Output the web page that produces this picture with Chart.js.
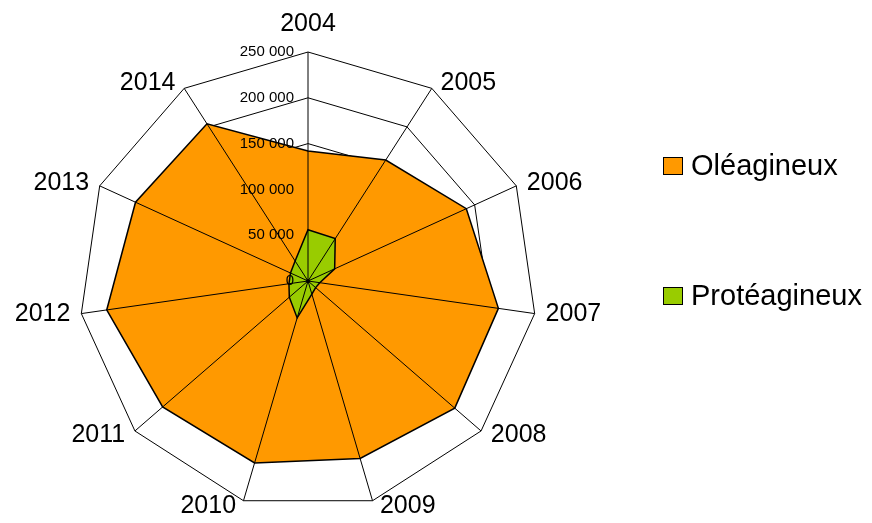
<!DOCTYPE html>
<html>
<head>
<meta charset="utf-8">
<script src="https://cdn.jsdelivr.net/npm/chart.js@4.4.1/dist/chart.umd.min.js"></script>
<style>
  html, body { margin: 0; padding: 0; background: #fff; }
  #wrap { position: relative; width: 872px; height: 523px; }
</style>
</head>
<body>
<div id="wrap"><canvas id="c" width="872" height="523"></canvas></div>
<script>
const categories = ['2004', '2005', '2006', '2007', '2008', '2009', '2010', '2011', '2012', '2013', '2014'];
const oleagineux = [142000, 157000, 190000, 210000, 212000, 202000, 207000, 210000, 222000, 207000, 204000];
const proteagineux = [56000, 55000, 32000, 13000, 11000, 15000, 42000, 27000, 21000, 21000, 26000];
const tickValues = [0, 50000, 100000, 150000, 200000, 250000];
const seriesNames = ['Oléagineux', 'Protéagineux'];
const seriesColors = ['#FF9900', '#99CC00'];

function fmt(v) {
  return String(v).replace(/\B(?=(\d{3})+(?!\d))/g, ' ');
}

const overlay = {
  id: 'overlay',
  afterDatasetsDraw(chart) {
    const ctx = chart.ctx;
    const s = chart.scales.r;
    const R = s.getDistanceFromCenterForValue(tickValues[tickValues.length - 1]);
    ctx.save();
    // spokes over the data
    ctx.strokeStyle = '#000';
    ctx.lineWidth = 1;
    ctx.beginPath();
    for (let i = 0; i < categories.length; i++) {
      const p = s.getPointPosition(i, R);
      ctx.moveTo(s.xCenter, s.yCenter);
      ctx.lineTo(p.x, p.y);
    }
    ctx.stroke();
    ctx.fillStyle = '#000';
    ctx.beginPath();
    ctx.arc(s.xCenter, s.yCenter, 2, 0, Math.PI * 2);
    ctx.fill();
    // tick labels
    ctx.font = '15px "Liberation Sans", Arial, sans-serif';
    ctx.textAlign = 'right';
    ctx.textBaseline = 'middle';
    tickValues.forEach(v => {
      const d = s.getDistanceFromCenterForValue(v);
      ctx.fillText(fmt(v), s.xCenter - 14, s.yCenter - d);
    });
    // point labels
    ctx.font = '25px "Liberation Sans", Arial, sans-serif';
    categories.forEach((lab, i) => {
      const p = s.getPointPosition(i, R);
      const a = i * 2 * Math.PI / categories.length;
      const sn = Math.sin(a), cs = Math.cos(a);
      if (i === 0) {
        ctx.textAlign = 'center';
        ctx.fillText(lab, p.x, p.y - 28);
      } else {
        ctx.textAlign = sn > 0 ? 'left' : 'right';
        const dx = (6 + 5 * Math.abs(sn)) * (sn > 0 ? 1 : -1);
        ctx.fillText(lab, p.x + dx, p.y - 6 * cs);
      }
    });
    // legend
    const legY = [166, 296];
    ctx.font = '29px "Liberation Sans", Arial, sans-serif';
    ctx.textAlign = 'left';
    seriesNames.forEach((n, i) => {
      ctx.fillStyle = seriesColors[i];
      ctx.fillRect(663.5, legY[i] - 8.5, 19, 17);
      ctx.strokeStyle = '#000';
      ctx.lineWidth = 1;
      ctx.strokeRect(663.5, legY[i] - 8.5, 19, 17);
      ctx.fillStyle = '#000';
      ctx.fillText(n, 691, legY[i] + 1);
    });
    ctx.restore();
  }
};

new Chart(document.getElementById('c'), {
  type: 'radar',
  data: {
    labels: categories,
    datasets: [
      {
        label: seriesNames[0],
        data: oleagineux,
        backgroundColor: seriesColors[0],
        borderColor: '#000',
        borderWidth: 1.5,
        pointRadius: 0,
        fill: true,
        order: 2
      },
      {
        label: seriesNames[1],
        data: proteagineux,
        backgroundColor: seriesColors[1],
        borderColor: '#000',
        borderWidth: 1.5,
        pointRadius: 0,
        fill: true,
        order: 1
      }
    ]
  },
  options: {
    responsive: false,
    animation: false,
    events: [],
    layout: { padding: { left: 79, right: 334, top: 52, bottom: 12 } },
    plugins: { legend: { display: false }, tooltip: { enabled: false } },
    elements: { line: { tension: 0 } },
    scales: {
      r: {
        min: 0,
        max: 250000,
        ticks: { display: false, stepSize: 50000 },
        pointLabels: { display: false },
        angleLines: { display: false },
        grid: { color: '#000', lineWidth: 1 }
      }
    }
  },
  plugins: [overlay]
});
</script>
</body>
</html>
